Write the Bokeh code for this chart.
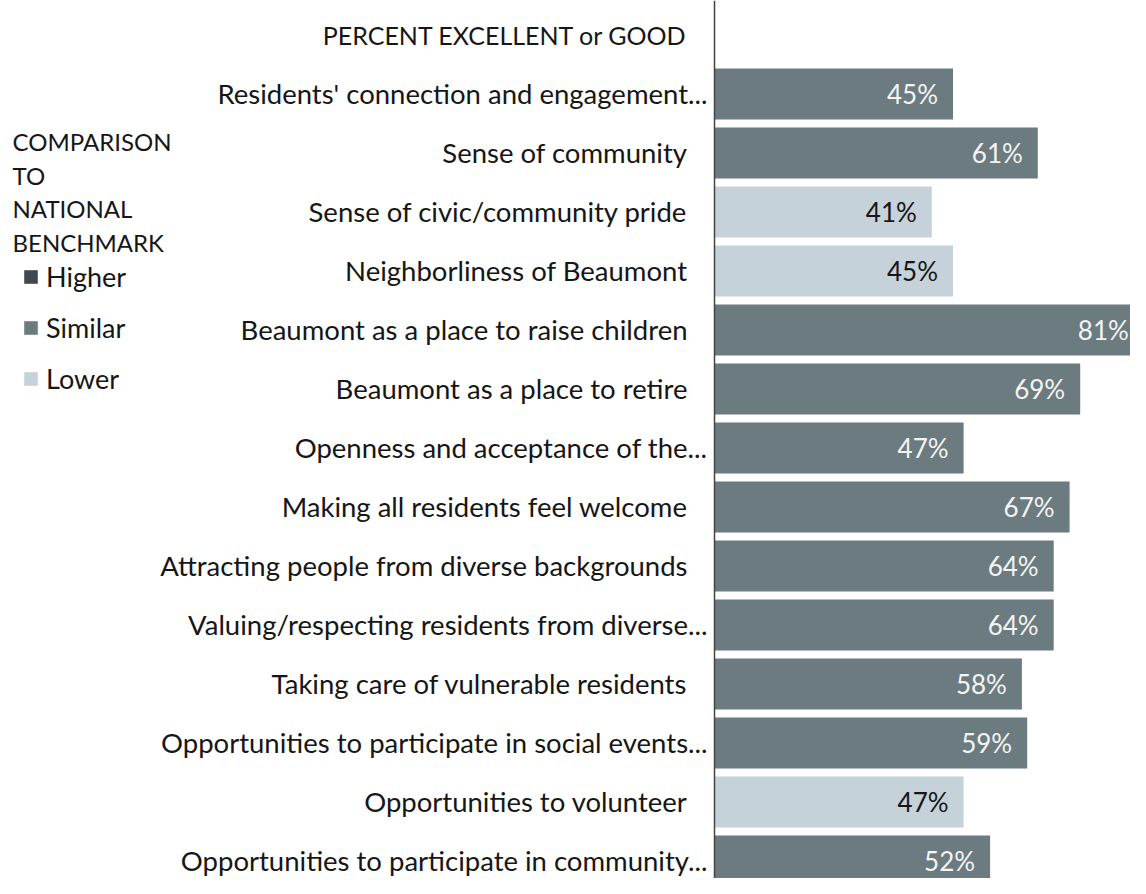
from bokeh.plotting import figure
from bokeh.models import ColumnDataSource, Range1d, Span, Label, Legend, LegendItem, CDSView, GroupFilter
from bokeh.core.properties import value
from bokeh.embed import file_html
from bokeh.resources import INLINE

header = "PERCENT EXCELLENT or GOOD"
categories = [
    "Residents' connection and engagement...",
    "Sense of community",
    "Sense of civic/community pride",
    "Neighborliness of Beaumont",
    "Beaumont as a place to raise children",
    "Beaumont as a place to retire",
    "Openness and acceptance of the...",
    "Making all residents feel welcome",
    "Attracting people from diverse backgrounds",
    "Valuing/respecting residents from diverse...",
    "Taking care of vulnerable residents",
    "Opportunities to participate in social events...",
    "Opportunities to volunteer",
    "Opportunities to participate in community...",
]
values = [45, 61, 41, 45, 81, 69, 47, 67, 64, 64, 58, 59, 47, 52]
comparison = ["Similar", "Similar", "Lower", "Lower", "Similar", "Similar", "Similar",
              "Similar", "Similar", "Similar", "Similar", "Similar", "Lower", "Similar"]
legend_levels = ["Higher", "Similar", "Lower"]
legend_title = ["COMPARISON", "TO", "NATIONAL", "BENCHMARK"]

FONT = "Lato"
TXT = "#161616"
colors = {"Higher": "#3f494f", "Similar": "#6b7b80", "Lower": "#c6d2d9"}
text_colors = {"Higher": "#f4f4f4", "Similar": "#f4f4f4", "Lower": "#161616"}

W, H = 1130, 878
p = figure(width=W, height=H, output_backend="svg", toolbar_location=None,
           x_range=Range1d(-134.72, 78.49), y_range=Range1d(14.297, -0.5847),
           min_border=0, min_border_left=0, min_border_right=0,
           min_border_top=0, min_border_bottom=0)
p.axis.visible = False
p.grid.visible = False
p.outline_line_color = None
p.background_fill_color = "white"
p.border_fill_color = "white"

rows = list(range(1, len(categories) + 1))
src = ColumnDataSource(dict(
    y=rows,
    v=values,
    lab=[f"{v}%" for v in values],
    comparison=comparison,
))

renderers = {}
for lvl in legend_levels:
    present = lvl in comparison
    if present:
        view = CDSView(filter=GroupFilter(column_name="comparison", group=lvl))
        r = p.hbar(y="y", left=0, right="v", height=0.864, source=src, view=view,
                   fill_color=colors[lvl], line_color=None)
        p.text(x="v", y="y", text="lab", source=src,
               view=CDSView(filter=GroupFilter(column_name="comparison", group=lvl)),
               text_align="right", text_baseline="middle", x_offset=-15, text_font=value(FONT),
               text_font_size="26px", text_color=text_colors[lvl])
    else:
        # category with no bars: hidden renderer only used for its legend swatch
        r = p.hbar(y="y", left=0, right="v", height=0.864, source=src,
                   fill_color=colors[lvl], line_color=None, visible=False)
    renderers[lvl] = r

# category labels
lab_src = ColumnDataSource(dict(
    y=rows,
    x=[0] * len(categories),
    t=categories,
    off=[-7 if c.endswith("...") else -27 for c in categories],
))
p.text(x="x", y="y", text="t", source=lab_src, x_offset="off", text_align="right",
       text_baseline="middle", text_font=value(FONT), text_font_size="27.5px",
       text_color=TXT)
p.text(x=[0], y=[0], text=[header], x_offset=-27, text_align="right",
       text_baseline="middle", text_font=value(FONT), text_font_size="25px",
       text_color=TXT)

p.add_layout(Span(location=0, dimension="height", line_color="#444444", line_width=1.5))

# legend title lines
for k, t in enumerate(legend_title):
    p.add_layout(Label(x=12, y=H - 141 - 33.6 * k, x_units="screen", y_units="screen",
                       text=t, text_font=FONT, text_font_size="24px",
                       text_color=TXT, text_baseline="middle"))

legend = Legend(items=[LegendItem(label=lvl, renderers=[renderers[lvl]]) for lvl in legend_levels],
                location=(22, H - 395), orientation="vertical",
                label_text_font=FONT, label_text_font_size="27px", label_text_color=TXT,
                glyph_width=17, glyph_height=17, label_height=28, label_standoff=7,
                spacing=18, padding=0, margin=0, background_fill_alpha=0,
                border_line_color=None, inactive_fill_alpha=0, click_policy="none")
p.add_layout(legend)

open("out.html", "w").write(file_html(p, INLINE))
